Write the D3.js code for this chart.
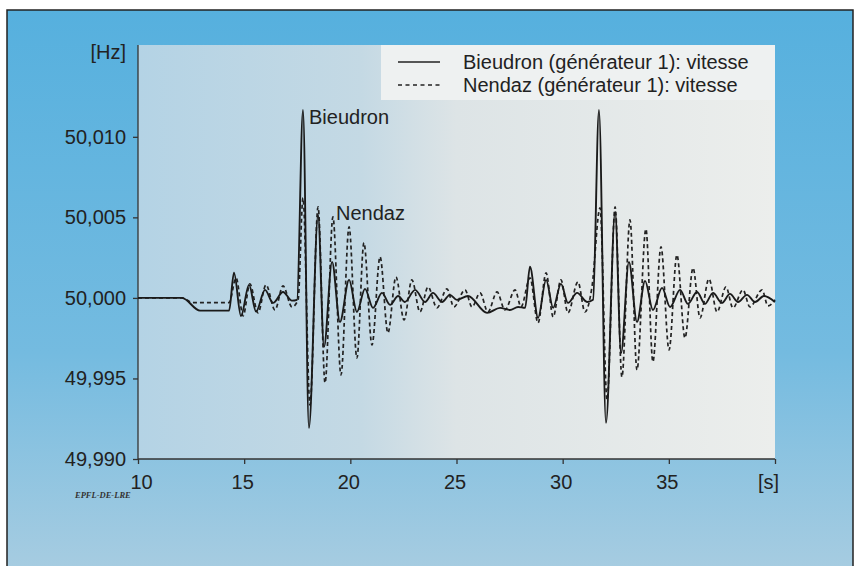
<!DOCTYPE html>
<html>
<head>
<meta charset="utf-8">
<script src="https://cdn.jsdelivr.net/npm/d3@7.9.0/dist/d3.min.js"></script>
<style>
  body { margin: 0; background: #fff; }
  svg { display: block; font-family: "Liberation Sans", Arial, Helvetica, sans-serif; }
</style>
</head>
<body>
<svg id="chart" width="861" height="566"></svg>
<script>
// time (s) and frequency (Hz)
const bieudronT = [10.00, 12.07, 12.92, 14.29, 14.52, 14.85, 15.23, 15.56, 15.98, 16.36, 16.83, 17.25, 17.49,
  17.77, 18.05, 18.48, 18.76, 19.14, 19.51, 19.94, 20.31, 20.69, 21.07, 21.49, 21.87, 22.25, 22.57,
  23.05, 23.52, 23.89, 24.32, 24.69, 25.02, 25.54, 26.44, 27.05, 27.52, 27.90, 28.23, 28.46, 28.84,
  29.22, 29.55, 29.92, 30.25, 30.68, 31.15, 31.43, 31.71, 32.04, 32.47, 32.75, 33.12, 33.50, 33.88,
  34.25, 34.68, 35.06, 35.53, 35.90, 36.33, 36.70, 37.08, 37.50, 37.88, 38.26, 38.68, 39.06, 39.48, 40.00];
const bieudronHz = [50.00000, 50.00000, 49.99921, 49.99922, 50.00157, 49.99888, 50.00081, 49.99915, 50.00050, 49.99969, 50.00037, 49.99983, 49.99988,
  50.01167, 49.99193, 50.00515, 49.99696, 50.00224, 49.99851, 50.00112, 49.99913, 50.00056, 49.99938, 50.00031, 49.99957, 50.00012, 49.99975,
  50.00050, 49.99975, 50.00031, 49.99975, 50.00019, 49.99988, 50.00012, 49.99907, 49.99938, 49.99925, 49.99944, 49.99938, 50.00193, 49.99876,
  50.00112, 49.99938, 50.00087, 49.99969, 50.00031, 49.99975, 49.99988, 50.01167, 49.99224, 50.00534, 49.99658, 50.00224, 49.99851, 50.00106,
  49.99925, 50.00062, 49.99944, 50.00050, 49.99963, 50.00037, 49.99963, 50.00031, 49.99969, 50.00025, 49.99975, 50.00019, 49.99975, 50.00012, 49.99975];

const nendazT = [10.00, 12.07, 12.59, 14.29, 14.62, 14.95, 15.27, 15.65, 16.03, 16.45, 16.83, 17.25, 17.54,
  17.77, 18.10, 18.48, 18.81, 19.18, 19.56, 19.94, 20.31, 20.64, 21.02, 21.40, 21.77, 22.15, 22.53,
  22.90, 23.28, 23.66, 24.08, 24.55, 24.88, 25.40, 25.73, 26.11, 26.48, 26.91, 27.28, 27.76, 28.04,
  28.46, 28.84, 29.22, 29.55, 29.92, 30.25, 30.72, 31.05, 31.38, 31.76, 32.09, 32.47, 32.79, 33.17,
  33.50, 33.92, 34.25, 34.63, 35.01, 35.38, 35.76, 36.14, 36.47, 36.89, 37.27, 37.69, 38.02, 38.49,
  38.82, 39.39, 39.67, 40.00];
const nendazHz = [50.00000, 50.00000, 49.99971, 49.99971, 50.00124, 49.99888, 50.00087, 49.99907, 50.00081, 49.99925, 50.00075, 49.99944, 49.99988,
  50.00621, 49.99336, 50.00565, 49.99472, 50.00503, 49.99522, 50.00441, 49.99627, 50.00342, 49.99708, 50.00255, 49.99783, 50.00130, 49.99863,
  50.00112, 49.99913, 50.00068, 49.99938, 50.00056, 49.99944, 50.00050, 49.99944, 50.00031, 49.99913, 50.00037, 49.99925, 50.00050, 49.99944,
  50.00124, 49.99845, 50.00155, 49.99882, 50.00112, 49.99907, 50.00099, 49.99913, 50.00068, 50.00559, 49.99367, 50.00565, 49.99509, 50.00484,
  49.99553, 50.00428, 49.99603, 50.00317, 49.99677, 50.00267, 49.99752, 50.00186, 49.99876, 50.00118, 49.99913, 50.00068, 49.99938, 50.00050,
  49.99944, 50.00050, 49.99950, 49.99988];

const xTicks = [10, 15, 20, 25, 30, 35];
const yTicks = [49.990, 49.995, 50.000, 50.005, 50.010];
const legendLabels = ["Bieudron (générateur 1): vitesse", "Nendaz (générateur 1): vitesse"];

const svg = d3.select("#chart");
const defs = svg.append("defs");

let frameGrad = defs.append("linearGradient").attr("id", "frameGrad")
  .attr("x1", 0).attr("y1", 0).attr("x2", 0).attr("y2", 1);
frameGrad.append("stop").attr("offset", "0%").attr("stop-color", "#56b0de");
frameGrad.append("stop").attr("offset", "60%").attr("stop-color", "#74bbe0");
frameGrad.append("stop").attr("offset", "100%").attr("stop-color", "#a9cde1");

let plotGrad = defs.append("linearGradient").attr("id", "plotGrad")
  .attr("x1", 0).attr("y1", 0).attr("x2", 1).attr("y2", 0);
plotGrad.append("stop").attr("offset", "0%").attr("stop-color", "#b4d3e5");
plotGrad.append("stop").attr("offset", "35%").attr("stop-color", "#c4d9e4");
plotGrad.append("stop").attr("offset", "50%").attr("stop-color", "#dde4e6");
plotGrad.append("stop").attr("offset", "100%").attr("stop-color", "#eceeec");

// outer blue frame
svg.append("rect").attr("x", 7).attr("y", 10).attr("width", 846).attr("height", 570)
  .attr("fill", "url(#frameGrad)").attr("stroke", "#222").attr("stroke-width", 1.5);

const mLeft = 138, mRight = 775, mTop = 45, mBottom = 459;
const x = d3.scaleLinear().domain([10, 40]).range([mLeft, mRight]);
const y = d3.scaleLinear().domain([49.990, 50.0157]).range([mBottom, mTop]);

svg.append("rect").attr("x", mLeft).attr("y", mTop).attr("width", mRight - mLeft).attr("height", mBottom - mTop)
  .attr("fill", "url(#plotGrad)");

// axes
const fs = 20;
const fmt = d => d3.format(".3f")(d).replace(".", ",");
const yAxis = svg.append("g").attr("transform", `translate(${mLeft},0)`)
  .call(d3.axisLeft(y).tickValues(yTicks).tickFormat(fmt).tickSize(5).tickPadding(7));
const xAxis = svg.append("g").attr("transform", `translate(0,${mBottom})`)
  .call(d3.axisBottom(x).tickValues(xTicks.concat([40])).tickFormat(d => d === 40 ? "[s]" : d).tickSize(5).tickPadding(11));
[yAxis, xAxis].forEach(g => {
  g.select(".domain").attr("stroke", "#333").attr("stroke-width", 1.3);
  g.selectAll(".tick line").attr("stroke", "#333").attr("stroke-width", 1.3);
  g.selectAll("text").attr("fill", "#222").attr("font-size", fs).attr("font-family", null);
});
yAxis.select(".domain").attr("d", `M-0,${mBottom}V${mTop}`);
xAxis.select(".domain").attr("d", `M${mLeft},0H${mRight}`);
xAxis.selectAll(".tick text").attr("dx", d => d === 40 ? -7 : (d === 10 ? 3 : -2));

svg.append("text").attr("x", mLeft - 12).attr("y", 59).attr("text-anchor", "end")
  .attr("font-size", fs).attr("fill", "#222").text("[Hz]");

// legend box
svg.append("rect").attr("x", 381).attr("y", 45).attr("width", 394).attr("height", 55)
  .attr("fill", "#eef1f1");

// series
const line = d3.line().x(d => x(d[0])).y(d => y(d[1])).curve(d3.curveMonotoneX);
const bData = d3.zip(bieudronT, bieudronHz);
const nData = d3.zip(nendazT, nendazHz);

svg.append("path").datum(nData).attr("d", line).attr("fill", "none")
  .attr("stroke", "#222").attr("stroke-width", 1.7).attr("stroke-dasharray", "4,3");
svg.append("path").datum(bData).attr("d", line).attr("fill", "none")
  .attr("stroke", "#1a1a1a").attr("stroke-width", 1.9);

// legend
const leg = svg.append("g");
legendLabels.forEach((lab, i) => {
  const ly = 62 + i * 23;
  leg.append("line").attr("x1", 398).attr("x2", 440).attr("y1", ly).attr("y2", ly)
    .attr("stroke", "#222").attr("stroke-width", 1.5)
    .attr("stroke-dasharray", i === 1 ? "4,3.5" : null);
  leg.append("text").attr("x", 463).attr("y", ly + 7).attr("font-size", fs)
    .attr("fill", "#222").text(lab);
});

// annotations
svg.append("text").attr("x", 309).attr("y", 124).attr("font-size", fs).attr("fill", "#222").text("Bieudron");
svg.append("text").attr("x", 336).attr("y", 220).attr("font-size", fs).attr("fill", "#222").text("Nendaz");

svg.append("text").attr("x", 75).attr("y", 498).attr("font-size", 8.5)
  .attr("font-family", "'Liberation Serif', serif").attr("font-style", "italic").attr("font-weight", "bold")
  .attr("fill", "#333").text("EPFL-DE-LRE");
</script>
</body>
</html>
